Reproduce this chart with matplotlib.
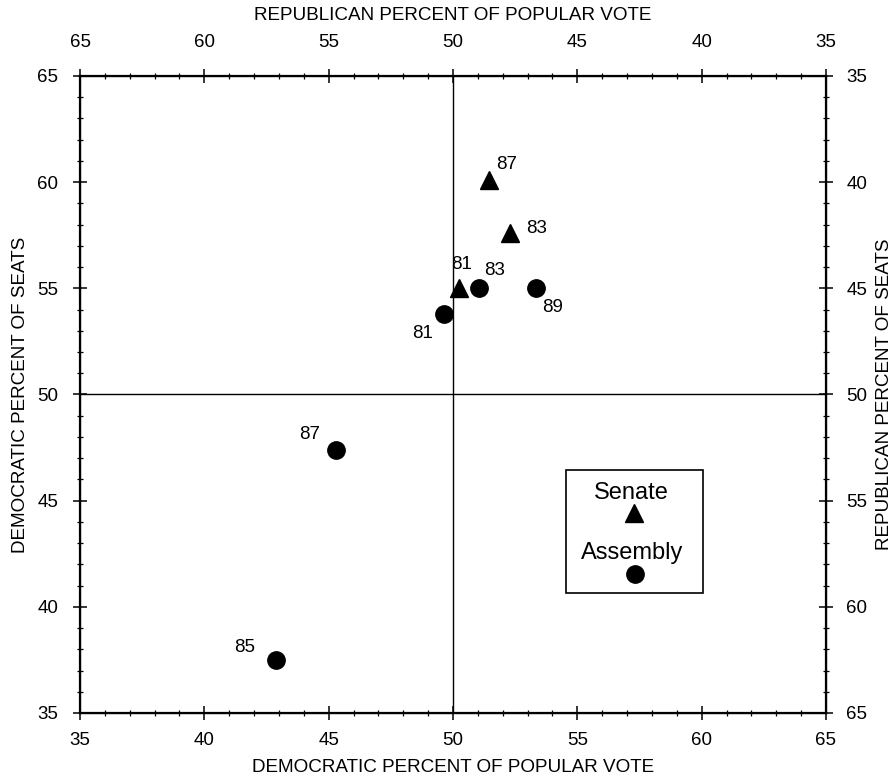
import matplotlib.pyplot as plt
from matplotlib.patches import Rectangle
from matplotlib.ticker import MultipleLocator

plt.rcParams['font.family'] = ['Liberation Sans', 'DejaVu Sans']

# Senate (triangles)
senate_years = ['81', '83', '87']
senate_vote = [50.25, 52.3, 51.45]
senate_seats = [55.0, 57.6, 60.1]

# Assembly (circles)
assembly_years = ['81', '83', '85', '87', '89']
assembly_vote = [49.65, 51.05, 42.9, 45.3, 53.35]
assembly_seats = [53.8, 55.0, 37.5, 47.4, 55.0]

ticks = [35, 40, 45, 50, 55, 60, 65]

# label offsets in points
senate_off = [(2, 17), (19, 3), (13, 11)]
assembly_off = [(-16, -14), (11, 13), (-23, 9), (-19, 11), (12, -14)]

fig = plt.figure(figsize=(8.95, 7.77), dpi=100)
ax = fig.add_axes([0.0894, 0.0824, 0.8335, 0.8198])

ax.set_xlim(35, 65)
ax.set_ylim(35, 65)
ax.axvline(50, color='black', lw=1.0, zorder=1)
ax.axhline(50, color='black', lw=1.0, zorder=1)

ax.plot(senate_vote, senate_seats, '^', color='black', ms=13, zorder=3)
ax.plot(assembly_vote, assembly_seats, 'o', color='black', ms=12.5, zorder=3)

for x, y, t, off in zip(senate_vote, senate_seats, senate_years, senate_off):
    ax.annotate(t, (x, y), xytext=off, textcoords='offset points',
                ha='center', va='center', fontsize=13.5)
for x, y, t, off in zip(assembly_vote, assembly_seats, assembly_years, assembly_off):
    ax.annotate(t, (x, y), xytext=off, textcoords='offset points',
                ha='center', va='center', fontsize=13.5)

# legend box
ax.add_patch(Rectangle((0.652, 0.188), 0.183, 0.193, transform=ax.transAxes,
                       fill=False, edgecolor='black', lw=1.2, zorder=2))
ax.text(0.7395, 0.345, 'Senate', transform=ax.transAxes, ha='center', va='center', fontsize=17)
ax.plot([0.7426], [0.314], '^', color='black', ms=13, transform=ax.transAxes)
ax.text(0.7395, 0.251, 'Assembly', transform=ax.transAxes, ha='center', va='center', fontsize=17)
ax.plot([0.744], [0.218], 'o', color='black', ms=12.5, transform=ax.transAxes)

for sp in ax.spines.values():
    sp.set_linewidth(1.6)

ax.set_xticks(ticks)
ax.set_yticks(ticks)
ax.xaxis.set_minor_locator(MultipleLocator(1))
ax.yaxis.set_minor_locator(MultipleLocator(1))

ax2 = ax.twiny()
ax2.set_xlim(65, 35)
ax2.set_xticks(ticks)
ax2.xaxis.set_minor_locator(MultipleLocator(1))
ax3 = ax.twinx()
ax3.set_ylim(65, 35)
ax3.set_yticks(ticks)
ax3.yaxis.set_minor_locator(MultipleLocator(1))

for a in (ax, ax2, ax3):
    a.tick_params(which='major', direction='inout', length=9.5, width=1.1, labelsize=13.5)
    a.tick_params(which='minor', direction='inout', length=4.5, width=0.9)
ax.tick_params(axis='x', pad=9)
ax.tick_params(axis='y', pad=11)
ax2.tick_params(axis='x', pad=13)
ax3.tick_params(axis='y', pad=10)

ax.set_xlabel('DEMOCRATIC PERCENT OF POPULAR VOTE', fontsize=13.6, va='center')
ax.xaxis.set_label_coords(0.5, -0.085)
ax.set_ylabel('DEMOCRATIC PERCENT OF SEATS', fontsize=13.6, va='center')
ax.yaxis.set_label_coords(-0.08, 0.5)
ax2.set_xlabel('REPUBLICAN PERCENT OF POPULAR VOTE', fontsize=13.6, va='center')
ax2.xaxis.set_label_coords(0.5, 1.095)
ax3.set_ylabel('REPUBLICAN PERCENT OF SEATS', fontsize=13.6, va='center')
ax3.yaxis.set_label_coords(1.079, 0.5)

plt.savefig('out.png', dpi=100)
